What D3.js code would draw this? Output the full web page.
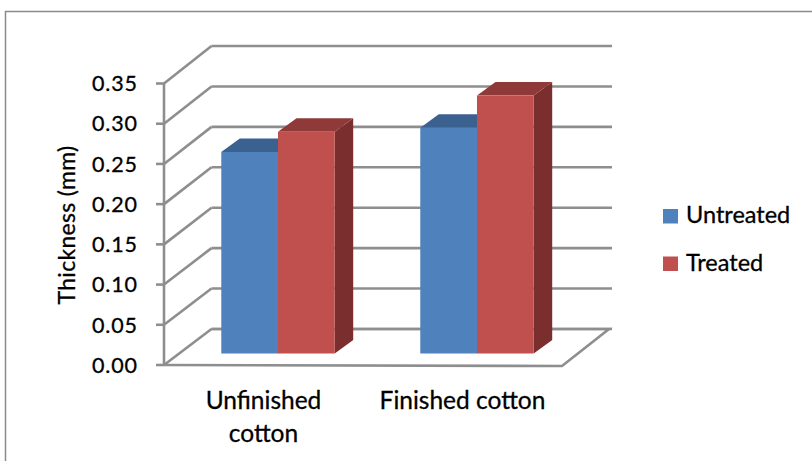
<!DOCTYPE html>
<html>
<head>
<meta charset="utf-8">
<script src="https://cdn.jsdelivr.net/npm/d3@7"></script>
<style>
  html, body { margin: 0; padding: 0; background: #fff; }
  svg { display: block; }
  text { font-family: Lato, "Open Sans", sans-serif; fill: #000; stroke: #000; stroke-width: 0.3; }
</style>
</head>
<body>
<svg id="chart" width="812" height="461"></svg>
<script>
// Fabric thickness (mm) for each fabric, untreated vs treated
const categories = ["Unfinished cotton", "Finished cotton"];
const seriesNames = ["Untreated", "Treated"];
const untreated = [0.25, 0.28];
const treated = [0.275, 0.32];
const yTicks = [0, 0.05, 0.10, 0.15, 0.20, 0.25, 0.30, 0.35];
const yTitle = "Thickness (mm)";

const frontColors = ["#4F81BD", "#C0504D"];
const topColors = ["#3B6190", "#8F3A38"];
const sideColors = ["#2F4F78", "#7A2F2E"];
const gridColor = "#8E8E8E";

const svg = d3.select("#chart");

// outer chart frame
svg.append("rect")
  .attr("x", 5.5).attr("y", 11.5)
  .attr("width", 900).attr("height", 600)
  .attr("fill", "none").attr("stroke", "#8a8a8a").attr("stroke-width", 1.5);

// 3D box: front plane of the floor and back wall
const frontLeft = 164, frontRight = 562;
const depthX = 47.5;                  // projection offset of the back wall
const yFront = d3.scaleLinear().domain([0, 0.35]).range([365, 83.5]);
const yBack = d3.scaleLinear().domain([0, 0.35]).range([329, 46]);
const backLeft = frontLeft + depthX, backRight = 612;

// bars stand at about a third of the depth
const barShift = 14.5;
const barDX = 18.5, barDY = -13.5;
const yBar = d3.scaleLinear().domain([0, 0.35]).range([353.5, 353.5 - 0.35 * 806]);

const x0 = d3.scaleBand().domain(categories)
  .range([frontLeft + barShift, frontRight + barShift])
  .paddingInner(0.43).paddingOuter(0.215);
const x1 = d3.scaleBand().domain(seriesNames).range([0, x0.bandwidth()]);

const gridG = svg.append("g")
  .attr("fill", "none").attr("stroke", gridColor).attr("stroke-width", 2.6);

// floor
gridG.append("path")
  .attr("d", `M${frontLeft},${yFront(0)} L${frontRight},${yFront(0) + 1} L${backRight - 3},${yBack(0)} L${backLeft},${yBack(0)}`);

// back wall gridlines and side wall diagonals
yTicks.forEach(v => {
  gridG.append("line")
    .attr("x1", backLeft).attr("x2", backRight)
    .attr("y1", yBack(v)).attr("y2", yBack(v));
  gridG.append("line")
    .attr("x1", frontLeft).attr("x2", backLeft)
    .attr("y1", yFront(v)).attr("y2", yBack(v));
});

// front value axis with tick marks
gridG.append("line")
  .attr("x1", frontLeft).attr("x2", frontLeft)
  .attr("y1", yFront(0.35)).attr("y2", yFront(0));
yTicks.forEach(v => {
  gridG.append("line")
    .attr("x1", frontLeft - 8).attr("x2", frontLeft)
    .attr("y1", yFront(v)).attr("y2", yFront(v));
});

// tick labels
svg.append("g").selectAll("text").data(yTicks).join("text")
  .attr("x", 138).attr("y", d => yFront(d))
  .attr("dy", "0.36em")
  .attr("text-anchor", "end")
  .attr("font-size", 21.5)
  .attr("letter-spacing", 0.9)
  .text(d => d3.format(".2f")(d));

// axis title
svg.append("text")
  .attr("transform", "translate(75,225) rotate(-90)")
  .attr("text-anchor", "middle")
  .attr("font-size", 23)
  .attr("letter-spacing", 0.3)
  .text(yTitle);

// 3D columns
const values = [untreated, treated];
const barsG = svg.append("g");
categories.forEach((cat, ci) => {
  seriesNames.forEach((s, si) => {
    const v = values[si][ci];
    const x = x0(cat) + x1(s);
    const w = x1.bandwidth();
    const yt = yBar(v), yb = yBar(0);
    const g = barsG.append("g");
    g.append("path").attr("fill", sideColors[si])
      .attr("d", `M${x + w},${yt} L${x + w + barDX},${yt + barDY} L${x + w + barDX},${yb + barDY} L${x + w},${yb}Z`);
    g.append("path").attr("fill", topColors[si])
      .attr("d", `M${x},${yt} L${x + w},${yt} L${x + w + barDX},${yt + barDY} L${x + barDX},${yt + barDY}Z`);
    g.append("rect").attr("fill", frontColors[si])
      .attr("x", x).attr("y", yt).attr("width", w).attr("height", yb - yt);
  });
});

// category labels under the floor
const xCat = d3.scaleBand().domain(categories).range([frontLeft, frontRight]);
const catLines = { "Unfinished cotton": ["Unfinished", "cotton"], "Finished cotton": ["Finished cotton"] };
categories.forEach(cat => {
  const t = svg.append("text")
    .attr("text-anchor", "middle")
    .attr("font-size", 24.5);
  catLines[cat].forEach((line, i) => {
    t.append("tspan")
      .attr("x", xCat(cat) + xCat.bandwidth() / 2)
      .attr("y", 408.5 + i * 33.5)
      .text(line);
  });
});

// legend
const legend = svg.append("g");
seriesNames.forEach((s, i) => {
  const y = 209 + i * 47.5;
  legend.append("rect").attr("x", 663).attr("y", y)
    .attr("width", 15).attr("height", 14.5).attr("fill", frontColors[i]);
  legend.append("text").attr("x", 686).attr("y", y + 14)
    .attr("font-size", 23.5).text(s);
});
</script>
</body>
</html>
